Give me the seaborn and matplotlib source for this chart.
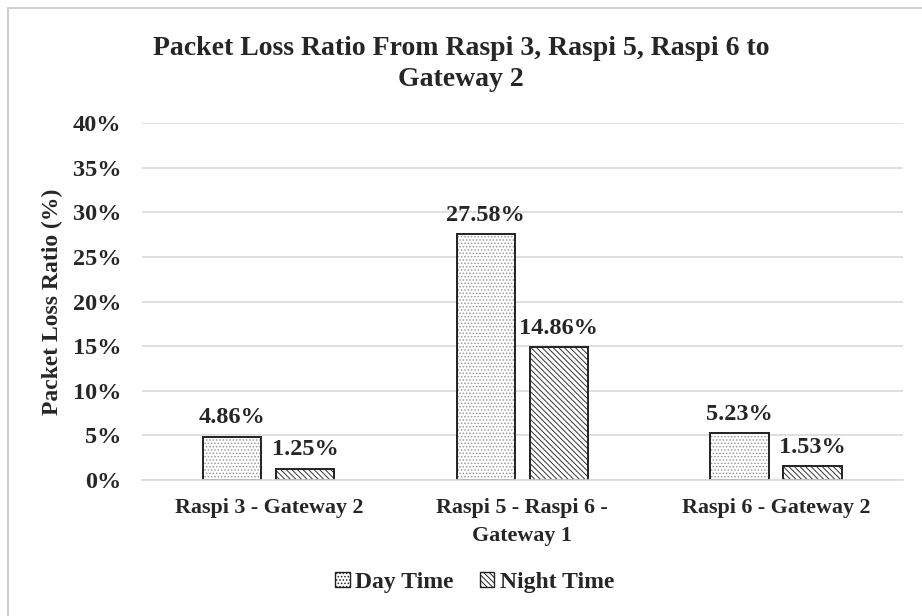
import matplotlib
matplotlib.use('Agg')
import matplotlib.pyplot as plt
from matplotlib.patches import Patch, Rectangle
from matplotlib.lines import Line2D
import seaborn as sns
import pandas as pd

# data
links = ['Raspi 3 - Gateway 2', 'Raspi 5 - Raspi 6 -\nGateway 1', 'Raspi 6 - Gateway 2']
day_time = [4.86, 27.58, 5.23]
night_time = [1.25, 14.86, 1.53]
series = ['Day Time', 'Night Time']
hatches = ['.....', '\\\\\\\\\\\\']
hatch_cols = ['#9a9a9a', '#333333']

df = pd.DataFrame({
    'link': links * 2,
    'period': [series[0]] * 3 + [series[1]] * 3,
    'loss': day_time + night_time,
})

sns.set_style('white')
plt.rcParams['font.family'] = ['Liberation Serif', 'DejaVu Serif']
plt.rcParams['font.weight'] = 'bold'
plt.rcParams['hatch.linewidth'] = 0.7

fig = plt.figure(figsize=(9.22, 6.16), dpi=100)
ax = fig.add_axes([0.154, 0.2208, 0.825, 0.5795])

sns.barplot(data=df, x='link', y='loss', hue='period', hue_order=series,
            width=0.576, gap=0.2, palette=['white', 'white'], edgecolor='#222222',
            linewidth=1.4, errorbar=None, legend=False, ax=ax)

for i, cont in enumerate(ax.containers):
    for p in cont:
        # hatch takes the edge colour, so draw the dark outline again on top
        p.set_hatch(hatches[i])
        p.set_edgecolor(hatch_cols[i])
        p.set_linewidth(0)
        ax.add_patch(Rectangle(p.get_xy(), p.get_width(), p.get_height(),
                               fill=False, edgecolor='#222222', linewidth=1.4, zorder=p.get_zorder() + 0.1))
    ax.bar_label(cont, labels=[f'{v:.2f}%' for v in cont.datavalues],
                 padding=6, fontsize=17.5, fontweight='bold')

ax.set_ylim(0, 40)
ax.set_yticks(range(0, 41, 5))
ax.set_yticklabels([f'{t}%' for t in range(0, 41, 5)], fontsize=17.5, fontweight='bold')
ax.tick_params(axis='x', labelsize=15.8, length=0, pad=13)
ax.tick_params(axis='y', length=0, pad=15)
for lbl in ax.get_xticklabels():
    lbl.set_fontweight('bold')
    lbl.set_linespacing(1.5)
ax.yaxis.grid(True, color='#d9d9d9', linewidth=1.2)
ax.set_axisbelow(True)
for s in ['top', 'right', 'left']:
    ax.spines[s].set_visible(False)
ax.spines['bottom'].set_color('#d9d9d9')
ax.spines['bottom'].set_linewidth(1.2)

ax.set_xlabel('')
ax.set_ylabel('Packet Loss Ratio (%)', fontsize=17, fontweight='bold')
ax.yaxis.set_label_coords(-0.104, 0.5)

fig.text(0.5, 0.896, 'Packet Loss Ratio From Raspi 3, Raspi 5, Raspi 6 to\nGateway 2',
         ha='center', va='center', fontsize=20, fontweight='bold', linespacing=1.35)

handles = [Patch(facecolor='white', edgecolor='#222222', hatch=h, label=s)
           for s, h in zip(series, hatches)]
fig.legend(handles=handles, loc='center', bbox_to_anchor=(0.515, 0.054), ncol=2,
           frameon=False, prop={'size': 17, 'weight': 'bold'},
           handlelength=0.6, handleheight=0.6, handletextpad=0.25, columnspacing=1.1)

# thin frame on the left and top, as in the screenshot
fig.add_artist(Line2D([0.009, 0.009], [0, 0.987], color='#d0d0d0', linewidth=1.5))
fig.add_artist(Line2D([0.009, 1], [0.987, 0.987], color='#d0d0d0', linewidth=1.5))

fig.savefig('out.png', dpi=100)
